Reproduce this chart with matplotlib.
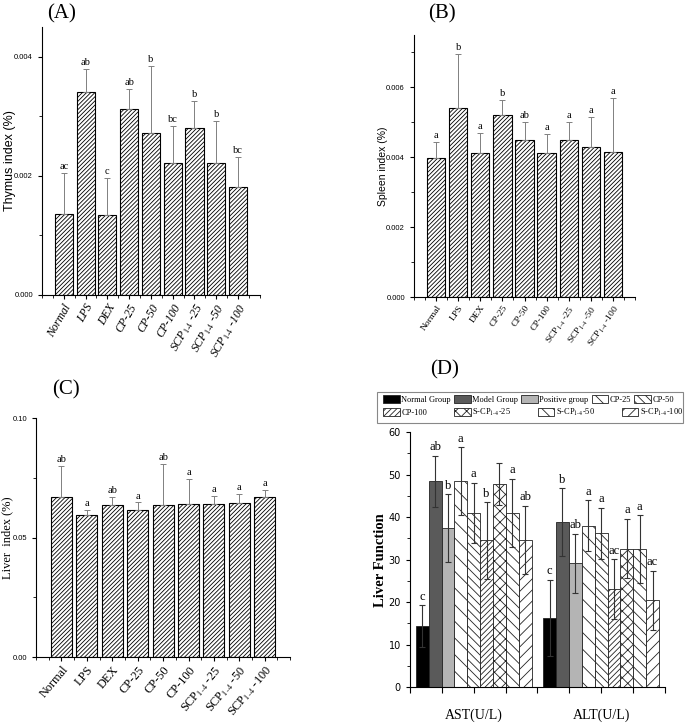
import numpy as np
import matplotlib
matplotlib.use("Agg")
import matplotlib.pyplot as plt
from matplotlib.ticker import MultipleLocator
from matplotlib.patches import Rectangle

plt.rcParams['font.family'] = ['Liberation Serif', 'DejaVu Serif']
plt.rcParams['mathtext.fontset'] = 'stix'
plt.rcParams['hatch.linewidth'] = 0.6

# Panels A-C: group names
groups = ['Normal', 'LPS', 'DEX', 'CP-25', 'CP-50', 'CP-100',
          r'SCP$_{1\text{-}4}$ -25', r'SCP$_{1\text{-}4}$ -50', r'SCP$_{1\text{-}4}$ -100']

# (A) thymus index
thymus = [0.00136, 0.00341, 0.00134, 0.00312, 0.00272, 0.00221, 0.00280, 0.00221, 0.00181]
thymus_err = [0.00069, 0.00038, 0.00062, 0.00034, 0.00112, 0.00063, 0.00045, 0.00071, 0.00050]
thymus_sig = ['ac', 'ab', 'c', 'ab', 'b', 'bc', 'b', 'b', 'bc']

# (B) spleen index
spleen = [0.00397, 0.00542, 0.00412, 0.00521, 0.00449, 0.00411, 0.00450, 0.00428, 0.00414]
spleen_err = [0.00046, 0.00153, 0.00058, 0.00043, 0.00052, 0.00055, 0.00051, 0.00086, 0.00156]
spleen_sig = ['a', 'b', 'a', 'b', 'ab', 'a', 'a', 'a', 'a']

# (C) liver index
liver = [0.0670, 0.0594, 0.0637, 0.0616, 0.0638, 0.0641, 0.0641, 0.0644, 0.0668]
liver_err = [0.0129, 0.0022, 0.0033, 0.0031, 0.0171, 0.0106, 0.0035, 0.0038, 0.0030]
liver_sig = ['ab', 'a', 'ab', 'a', 'ab', 'a', 'a', 'a', 'a']

# (D) liver function
d_cats = ['AST(U/L)', 'ALT(U/L)']
d_groups = ['Normal Group', 'Model Group', 'Positive group', 'CP-25', 'CP-50', 'CP-100',
            r'S-CP$_{1\text{-}4}$-25', r'S-CP$_{1\text{-}4}$-50', r'S-CP$_{1\text{-}4}$-100']
ast = [14.4, 48.4, 37.4, 48.4, 41.0, 34.5, 47.8, 41.0, 34.6]
ast_err = [4.9, 6.0, 8.0, 8.0, 7.0, 9.0, 5.0, 8.0, 8.0]
ast_sig = ['c', 'ab', 'b', 'a', 'a', 'b', '', 'a', 'ab']
alt = [16.3, 38.8, 29.1, 38.0, 36.2, 23.1, 32.6, 32.4, 20.4]
alt_err = [9.0, 8.0, 7.0, 6.0, 6.0, 7.0, 7.0, 8.0, 7.0]
alt_sig = ['c', 'b', 'ab', 'a', 'a', 'ac', 'a', 'a', 'ac']

d_colors = ['black', '#5a5a5a', '#b4b4b4', 'white', 'white', 'white', 'white', 'white', 'white']
d_hatches = [None, None, None, '\\\\', '\\\\\\\\', '//////', 'xxx', '\\\\\\', '///']

fig = plt.figure(figsize=(6.85, 7.26), dpi=100)


def index_panel(rect, vals, errs, sig, ylim, major, fmt, ylabel, ylab_font, xfont, rot, italic, labx):
    ax = fig.add_axes(rect)
    x = np.arange(1, len(vals) + 1)
    ax.bar(x, vals, width=0.83, color='white', edgecolor='black', hatch='////////', linewidth=0.8)
    ax.errorbar(x, vals, yerr=[np.zeros(len(vals)), errs], fmt='none', ecolor='#808080',
                elinewidth=0.7, capsize=2, capthick=0.7)
    for xi, v, e, s in zip(x, vals, errs, sig):
        ax.text(xi, v + e + ylim * 0.008, s, ha='center', va='bottom', fontsize=7.5)
    ax.set_xlim(0, 10)
    ax.set_ylim(0, ylim)
    ax.spines['top'].set_visible(False)
    ax.spines['right'].set_visible(False)
    ax.yaxis.set_major_locator(MultipleLocator(major))
    ax.yaxis.set_minor_locator(MultipleLocator(major / 2))
    ax.yaxis.set_major_formatter(plt.FormatStrFormatter(fmt))
    ax.set_xticks(x)
    ax.xaxis.set_minor_locator(MultipleLocator(0.5))
    ax.set_xticklabels(groups, rotation=rot, ha='right', rotation_mode='anchor',
                       fontsize=xfont, fontstyle='italic' if italic else 'normal')
    ax.tick_params(axis='y', labelsize=5.5, length=3, width=0.8, labelfontfamily='Liberation Sans')
    ax.tick_params(axis='y', which='minor', length=2)
    ax.tick_params(axis='x', length=3, width=0.8, pad=2)
    ax.tick_params(axis='x', which='minor', length=2)
    ax.set_ylabel(ylabel, **ylab_font)
    ax.yaxis.set_label_coords(labx, 0.5)
    return ax


axA = index_panel([0.0613, 0.5937, 0.318, 0.369], thymus, thymus_err, thymus_sig, 0.0045, 0.002,
                  '%.3f', 'Thymus index (%)', dict(fontsize=9, family='Liberation Sans'), 8.5, 60,
                  True, -0.12)
axB = index_panel([0.6044, 0.5909, 0.3226, 0.361], spleen, spleen_err, spleen_sig, 0.0075, 0.002,
                  '%.3f', 'Spleen index (%)', dict(fontsize=7.5, family='Liberation Sans'), 6.8, 55,
                  False, -0.118)
axC = index_panel([0.0526, 0.095, 0.371, 0.329], liver, liver_err, liver_sig, 0.10, 0.05,
                  '%.2f', 'Liver  index (%)', dict(fontsize=9), 8.8, 50, False, -0.088)

# (D)
axD = fig.add_axes([0.5985, 0.0533, 0.372, 0.3517])
w = 0.101
xc = np.arange(1, len(d_cats) + 1)
handles = []
for i in range(len(d_groups)):
    pos = xc + (i - 4) * w
    vals = [ast[i], alt[i]]
    errs = [ast_err[i], alt_err[i]]
    b = axD.bar(pos, vals, width=w, color=d_colors[i], edgecolor='#222222', linewidth=0.6,
                hatch=d_hatches[i], label=d_groups[i])
    handles.append(b)
    axD.errorbar(pos, vals, yerr=errs, fmt='none', ecolor='#333333', elinewidth=0.8,
                 capsize=2, capthick=0.8)
    for p, v, e, s in zip(pos, vals, errs, [ast_sig[i], alt_sig[i]]):
        axD.text(p, v + e + 0.6, s, ha='center', va='bottom', fontsize=9)
axD.set_xlim(0.5, 2.5)
axD.set_ylim(0, 60)
axD.spines['top'].set_visible(False)
axD.spines['right'].set_visible(False)
axD.set_xticks(xc)
axD.set_xticklabels(d_cats, fontsize=10)
axD.xaxis.set_minor_locator(MultipleLocator(0.25))
axD.yaxis.set_major_locator(MultipleLocator(10))
axD.yaxis.set_minor_locator(MultipleLocator(5))
axD.tick_params(axis='x', length=4, width=0.8, pad=11)
axD.tick_params(axis='x', which='minor', length=4, width=0.8)
axD.tick_params(axis='y', labelsize=7, length=3, width=0.8, labelfontfamily='Liberation Sans Narrow')
axD.tick_params(axis='y', which='minor', length=2)
axD.set_ylabel('Liver Function', fontsize=10.5, fontweight='bold')
axD.yaxis.set_label_coords(-0.09, 0.5)

# legend: two rows, drawn as two frameless figure legends inside one box
leg_kw = dict(loc='upper left', fontsize=6.0, frameon=False, handlelength=2.0, handleheight=1.1,
              handletextpad=0.2, borderpad=0, borderaxespad=0)
fig.legend(handles[:5], d_groups[:5], ncol=5, columnspacing=0.35,
           bbox_to_anchor=(383 / 685, 1 - 395 / 726), **leg_kw)
fig.legend(handles[5:], d_groups[5:], ncol=4, columnspacing=3.2,
           bbox_to_anchor=(383 / 685, 1 - 407 / 726), **leg_kw)
fig.add_artist(Rectangle((376.7 / 685, 1 - 423 / 726), (683 - 376.7) / 685, 31.3 / 726,
                         transform=fig.transFigure, fill=False, edgecolor='#888888', linewidth=0.8))

# panel letters
fig.text(62 / 685, 1 - 14 / 726, '(A)', fontsize=15, ha='center', va='center')
fig.text(442 / 685, 1 - 14 / 726, '(B)', fontsize=15, ha='center', va='center')
fig.text(66 / 685, 1 - 390 / 726, '(C)', fontsize=15, ha='center', va='center')
fig.text(445 / 685, 1 - 370 / 726, '(D)', fontsize=15, ha='center', va='center')

fig.savefig('out.png', dpi=100)
